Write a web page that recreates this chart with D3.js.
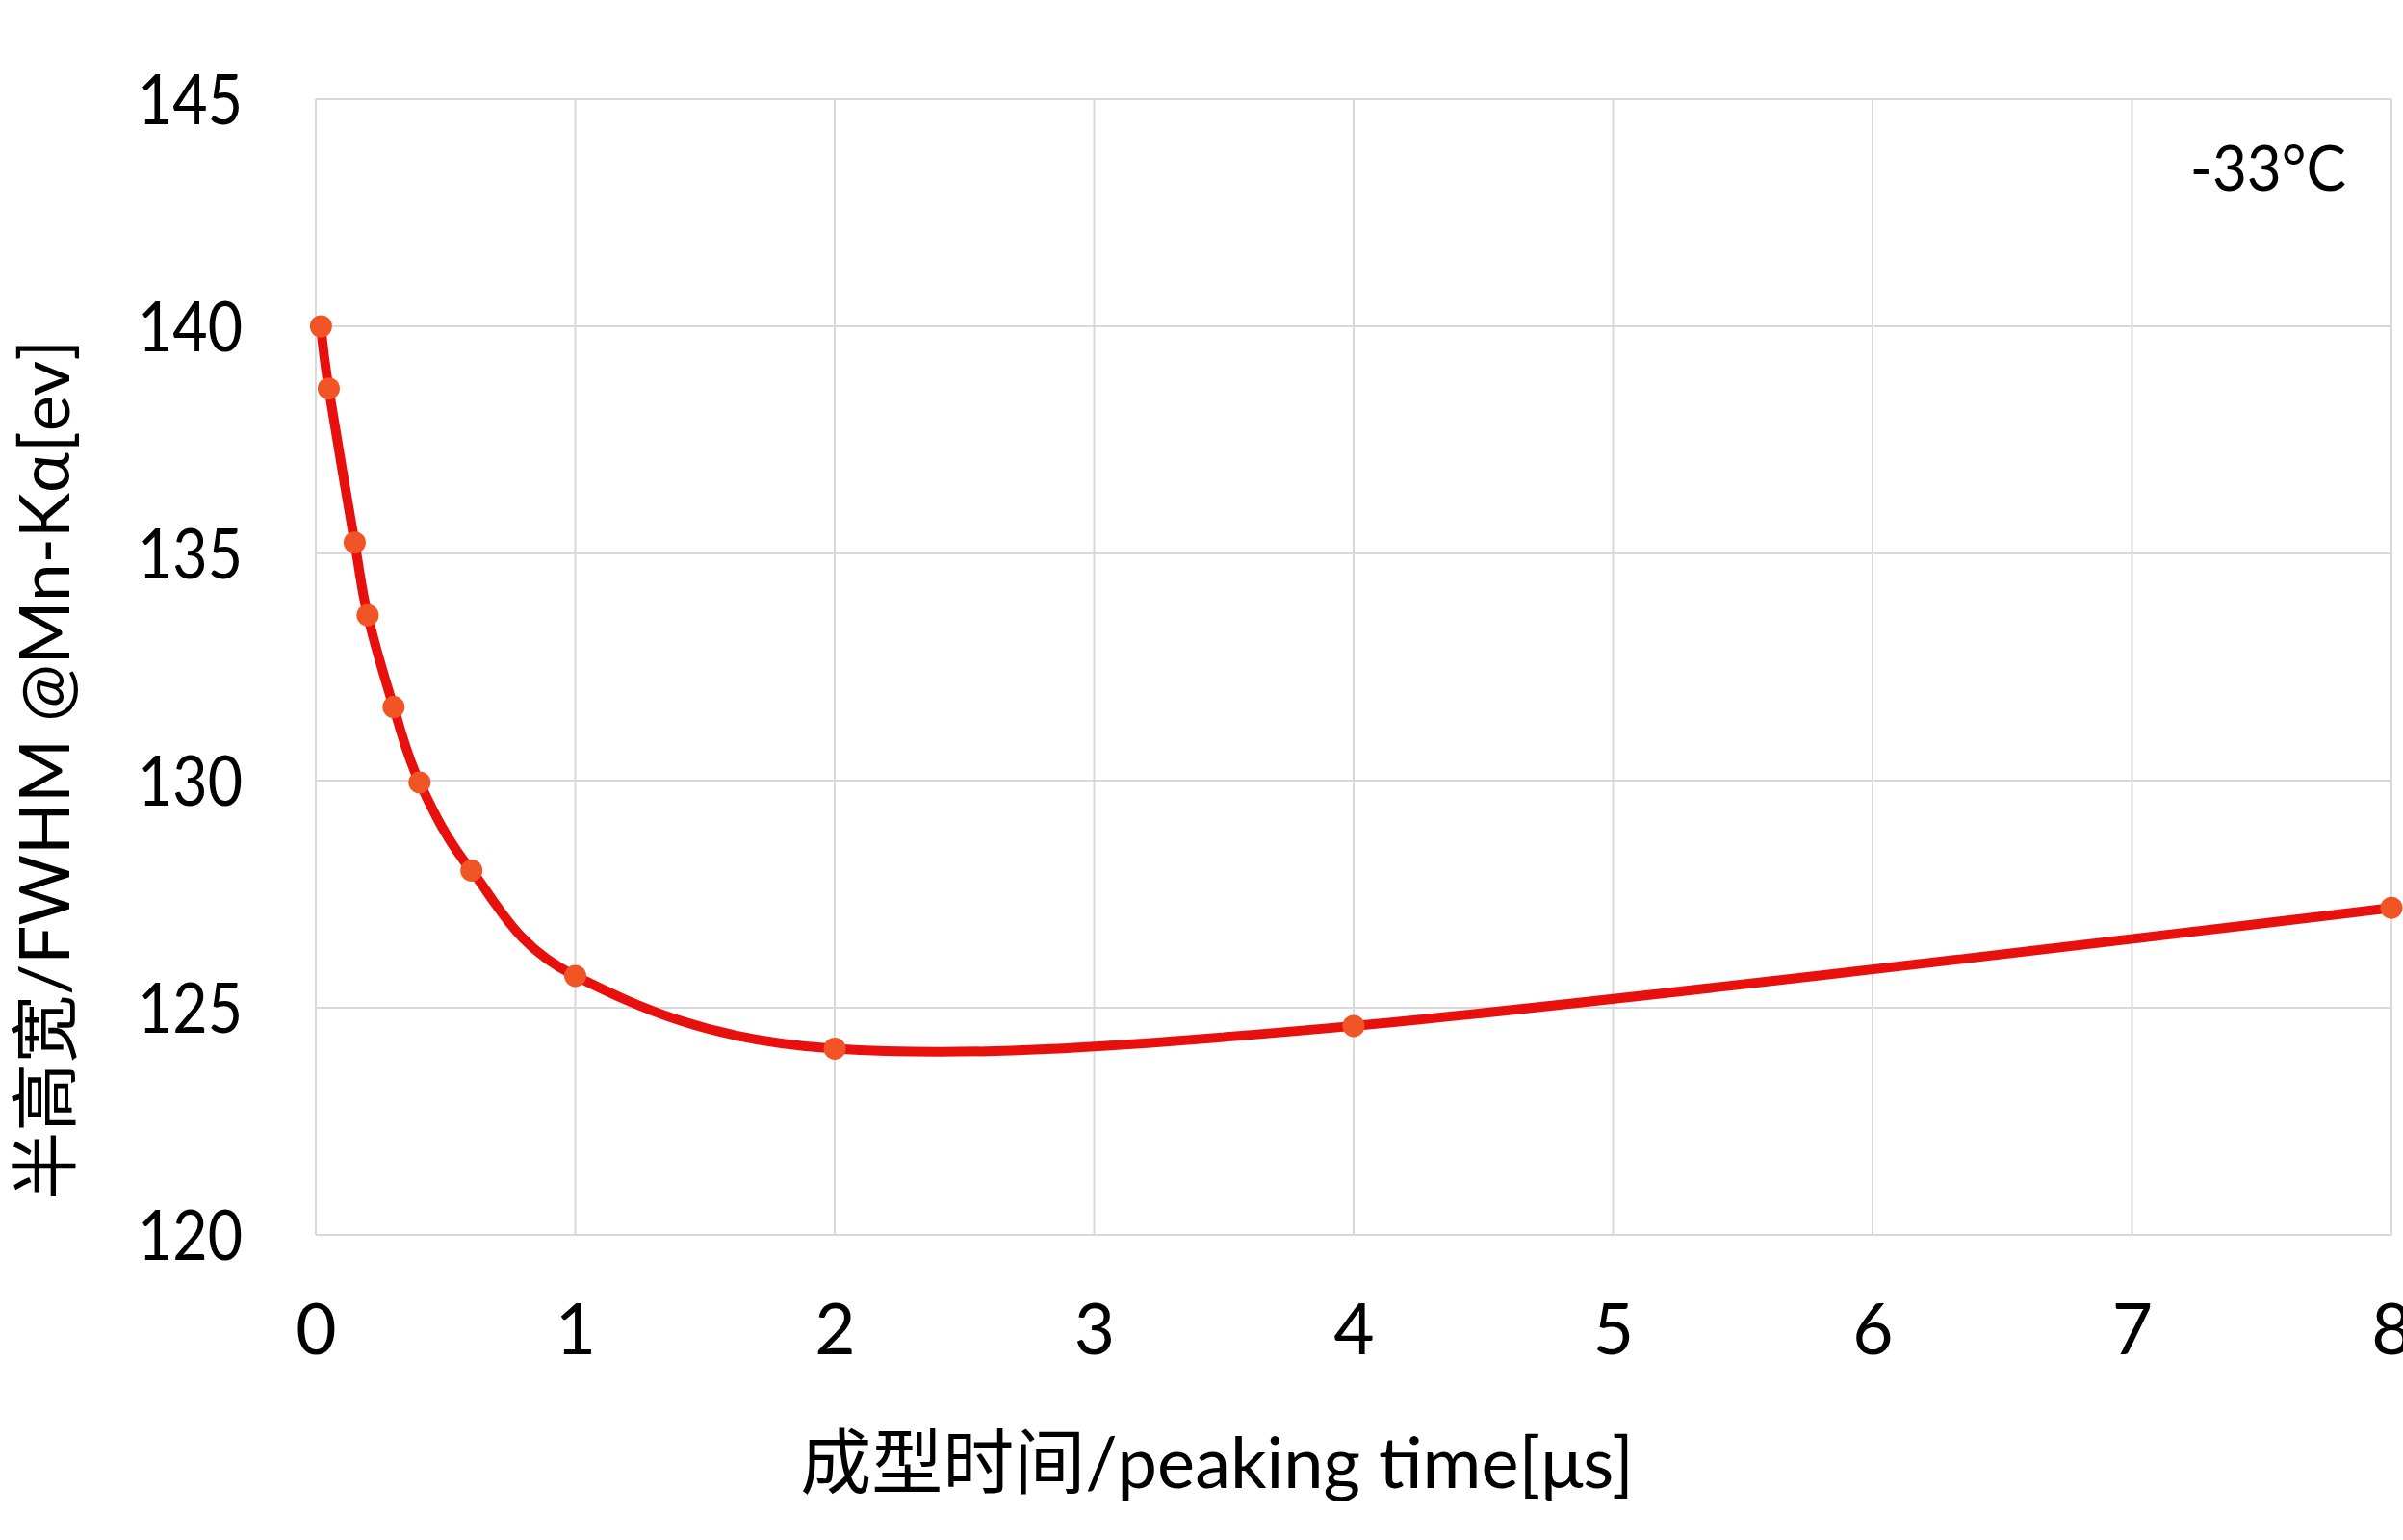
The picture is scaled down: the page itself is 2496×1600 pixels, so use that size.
<!DOCTYPE html>
<meta charset="utf-8">

<style>
  body { margin: 0; background: #fff; }
  .grid line { stroke: #d9d9d9; stroke-width: 2px; }
  .axis text { font-family: Lato, "Noto Sans CJK SC", sans-serif; fill: #000; }
  .title { font-family: Lato, "Noto Sans CJK SC", sans-serif; fill: #000; }
</style>

<body>
  <div id="fwhm_chart"></div>

  <script src="https://d3js.org/d3.v7.min.js"></script>
  <script>

    // data
    var peakingTime = [0.02, 0.05, 0.15, 0.2, 0.3, 0.4, 0.6, 1, 2, 4, 8];
    var fwhm = [140.0, 138.63, 135.24, 133.64, 131.62, 129.96, 128.02, 125.7, 124.1, 124.6, 127.2];
    var xTicks = [0, 1, 2, 3, 4, 5, 6, 7, 8];
    var yTicks = [120, 125, 130, 135, 140, 145];
    var xLabel = "成型时间/peaking time[μs]";
    var yLabel = "半高宽/FWHM @Mn-Kα[ev]";
    var tempNote = "-33°C";

    var data = peakingTime.map(function (t, i) { return { t: t, v: fwhm[i] }; });

    // set the dimensions and margins of the graph
    var margin = { top: 103, right: 12, bottom: 317, left: 328 };
    var width = 2496 - margin.left - margin.right;
    var height = 1600 - margin.top - margin.bottom;

    var svg = d3.select("#fwhm_chart")
      .append("svg")
      .attr("width", 2496)
      .attr("height", 1600)
      .append("g")
      .attr("transform", "translate(" + margin.left + "," + margin.top + ")");

    var x = d3.scaleLinear().domain([0, 8]).range([0, width]);
    var y = d3.scaleLinear().domain([120, 145]).range([height, 0]);

    // grid lines
    svg.append("g")
      .attr("class", "grid")
      .selectAll("line")
      .data(xTicks)
      .join("line")
      .attr("x1", d => x(d)).attr("x2", d => x(d))
      .attr("y1", 0).attr("y2", height);

    svg.append("g")
      .attr("class", "grid")
      .selectAll("line")
      .data(yTicks)
      .join("line")
      .attr("x1", 0).attr("x2", width)
      .attr("y1", d => y(d)).attr("y2", d => y(d));

    // X axis (labels only)
    svg.append("g")
      .attr("class", "axis")
      .attr("transform", "translate(0," + height + ")")
      .call(d3.axisBottom(x).tickValues(xTicks).tickSize(0).tickPadding(124).tickFormat(d3.format("d")))
      .call(g => g.select(".domain").remove())
      .call(g => g.selectAll("text").attr("font-size", 73).attr("dy", 0));

    // Y axis (labels only), a bit condensed like the original
    svg.append("g")
      .attr("class", "axis")
      .call(d3.axisLeft(y).tickValues(yTicks).tickSize(0).tickPadding(0).tickFormat(d3.format("d")))
      .call(g => g.select(".domain").remove())
      .call(g => g.selectAll("text")
        .attr("font-size", 72)
        .attr("dy", "0.36em")
        .attr("x", 0)
        .attr("transform", "translate(-76,0) scale(0.87,1)"));

    // the smoothed line
    svg.append("path")
      .datum(data)
      .attr("fill", "none")
      .attr("stroke", "#e8100c")
      .attr("stroke-width", 10)
      .attr("stroke-linejoin", "round")
      .attr("d", d3.line()
        .curve(d3.curveCardinal.tension(0))
        .x(d => x(d.t))
        .y(d => y(d.v)));

    // markers
    svg.append("g")
      .selectAll("circle")
      .data(data)
      .join("circle")
      .attr("cx", d => x(d.t))
      .attr("cy", d => y(d.v))
      .attr("r", 11.5)
      .attr("fill", "#f25525");

    // temperature note
    svg.append("text")
      .attr("class", "title")
      .attr("x", 2437 - margin.left)
      .attr("y", 198 - margin.top)
      .attr("text-anchor", "end")
      .attr("font-size", 66)
      .attr("transform", "translate(" + (2437 - margin.left) * 0.06 + ",0) scale(0.94,1)")
      .text(tempNote);

    // axis titles
    svg.append("text")
      .attr("class", "title")
      .attr("x", 1264 - margin.left)
      .attr("y", 1546 - margin.top)
      .attr("text-anchor", "middle")
      .attr("font-size", 74)
      .text(xLabel);

    svg.append("text")
      .attr("class", "title")
      .attr("transform", "translate(" + (72 - margin.left) + "," + (800 - margin.top) + ") rotate(-90)")
      .attr("text-anchor", "middle")
      .attr("font-size", 71)
      .text(yLabel);

  </script>
</body>
